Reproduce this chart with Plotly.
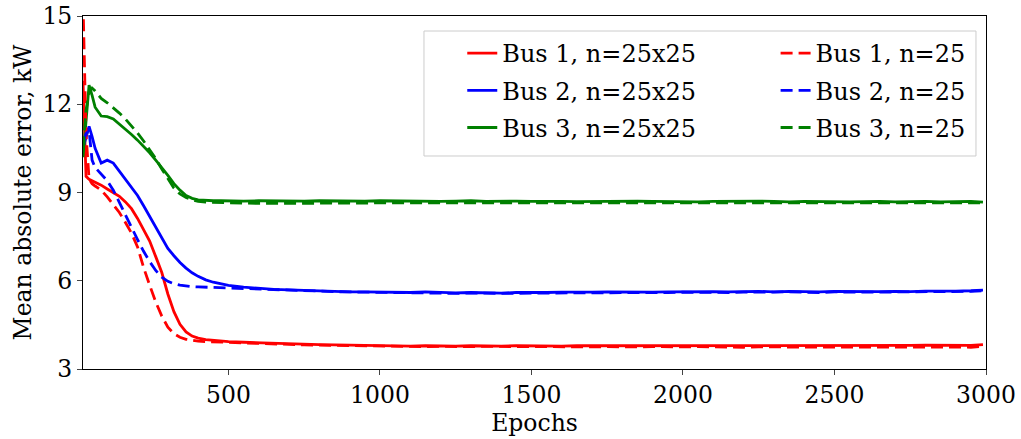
import plotly.graph_objects as go

epochs = [20, 30, 40, 50, 60, 80, 100, 120, 140, 160, 180, 200, 220, 240, 260, 280,
          300, 320, 340, 360, 380, 400, 425, 450, 475,
          500, 550, 600, 650, 700, 750, 800, 850, 900, 950, 1000, 1050, 1100, 1150,
          1200, 1250, 1300, 1350, 1400, 1450, 1500, 1550, 1600, 1650, 1700, 1750,
          1800, 1850, 1900, 1950, 2000, 2050, 2100, 2150, 2200, 2250, 2300, 2350,
          2400, 2450, 2500, 2550, 2600, 2650, 2700, 2750, 2800, 2850, 2900, 2950, 2990]

bus1_25x25 = [12.8, 9.55, 9.45, 9.40, 9.33, 9.25, 9.12, 9.00, 8.87, 8.68, 8.45, 8.12, 7.75, 7.35, 6.82, 6.28,
              5.55, 4.95, 4.52, 4.26, 4.12, 4.05, 4.00, 3.97, 3.95,
              3.93, 3.91, 3.89, 3.87, 3.85, 3.84, 3.83, 3.82, 3.81, 3.80, 3.79, 3.79, 3.78, 3.79,
              3.78, 3.78, 3.79, 3.78, 3.78, 3.79, 3.78, 3.79, 3.78, 3.79, 3.79, 3.78,
              3.79, 3.79, 3.78, 3.79, 3.79, 3.80, 3.79, 3.79, 3.80, 3.79, 3.80, 3.79,
              3.80, 3.80, 3.79, 3.80, 3.80, 3.79, 3.80, 3.80, 3.81, 3.80, 3.81, 3.80, 3.83]

bus1_25 = [15.5, 11.0, 9.45, 9.30, 9.22, 9.08, 8.85, 8.60, 8.32, 7.98, 7.62, 7.15, 6.45, 5.85, 5.28, 4.80,
           4.42, 4.20, 4.08, 4.01, 3.97, 3.95, 3.93, 3.92, 3.91,
           3.90, 3.88, 3.86, 3.85, 3.83, 3.82, 3.81, 3.80, 3.79, 3.78, 3.78, 3.77, 3.77, 3.76,
           3.77, 3.76, 3.76, 3.77, 3.76, 3.75, 3.76, 3.76, 3.75, 3.76, 3.75, 3.76,
           3.75, 3.75, 3.76, 3.75, 3.75, 3.76, 3.75, 3.75, 3.74, 3.75, 3.75, 3.74,
           3.75, 3.75, 3.74, 3.75, 3.74, 3.74, 3.75, 3.74, 3.74, 3.74, 3.75, 3.74, 3.77]

bus2_25x25 = [10.5, 10.9, 11.25, 10.9, 10.5, 10.0, 10.1, 10.0, 9.72, 9.48, 9.20, 8.90, 8.55, 8.18, 7.80, 7.45,
              7.10, 6.85, 6.62, 6.43, 6.27, 6.15, 6.03, 5.95, 5.89,
              5.84, 5.78, 5.74, 5.71, 5.69, 5.67, 5.65, 5.64, 5.62, 5.62, 5.61, 5.60, 5.60, 5.62,
              5.60, 5.59, 5.60, 5.59, 5.58, 5.60, 5.59, 5.60, 5.61, 5.60, 5.61, 5.62,
              5.61, 5.62, 5.61, 5.62, 5.63, 5.62, 5.63, 5.62, 5.63, 5.64, 5.62, 5.64,
              5.63, 5.62, 5.64, 5.63, 5.64, 5.63, 5.64, 5.63, 5.65, 5.64, 5.65, 5.66, 5.68]

bus2_25 = [10.7, 11.0, 11.1, 10.1, 9.85, 9.62, 9.40, 9.08, 8.65, 8.22, 7.82, 7.40, 7.00, 6.65, 6.35, 6.12,
           5.98, 5.90, 5.85, 5.82, 5.80, 5.79, 5.78, 5.77, 5.76,
           5.75, 5.74, 5.72, 5.70, 5.68, 5.66, 5.65, 5.63, 5.62, 5.61, 5.60, 5.59, 5.58, 5.59,
           5.58, 5.57, 5.58, 5.57, 5.58, 5.57, 5.58, 5.58, 5.59, 5.58, 5.59, 5.60,
           5.59, 5.60, 5.59, 5.60, 5.61, 5.60, 5.61, 5.60, 5.61, 5.62, 5.61, 5.62,
           5.61, 5.60, 5.62, 5.61, 5.62, 5.61, 5.62, 5.62, 5.63, 5.62, 5.63, 5.64, 5.66]

bus3_25x25 = [10.2, 11.5, 12.65, 12.3, 11.9, 11.6, 11.58, 11.5, 11.33, 11.15, 10.97, 10.78, 10.57, 10.35, 10.10, 9.85,
              9.58, 9.30, 9.08, 8.90, 8.80, 8.75, 8.73, 8.72, 8.72,
              8.71, 8.71, 8.72, 8.71, 8.72, 8.71, 8.72, 8.71, 8.70, 8.71, 8.72, 8.71, 8.72, 8.71,
              8.70, 8.71, 8.72, 8.70, 8.71, 8.71, 8.70, 8.71, 8.70, 8.69, 8.70, 8.71,
              8.70, 8.71, 8.70, 8.69, 8.70, 8.68, 8.70, 8.71, 8.70, 8.71, 8.70, 8.68,
              8.70, 8.69, 8.70, 8.68, 8.69, 8.70, 8.68, 8.69, 8.70, 8.68, 8.69, 8.70, 8.67]

bus3_25 = [10.5, 11.8, 12.4, 12.55, 12.45, 12.2, 12.05, 11.88, 11.70, 11.50, 11.27, 11.02, 10.75, 10.47, 10.15, 9.80,
           9.45, 9.15, 8.95, 8.83, 8.75, 8.70, 8.67, 8.66, 8.65,
           8.65, 8.64, 8.63, 8.63, 8.62, 8.62, 8.63, 8.63, 8.64, 8.64, 8.65, 8.65, 8.66, 8.66,
           8.67, 8.66, 8.67, 8.67, 8.66, 8.67, 8.66, 8.67, 8.66, 8.66, 8.67, 8.66,
           8.67, 8.66, 8.66, 8.67, 8.66, 8.65, 8.66, 8.66, 8.65, 8.66, 8.66, 8.65,
           8.66, 8.65, 8.66, 8.65, 8.65, 8.66, 8.65, 8.66, 8.65, 8.66, 8.65, 8.66, 8.65]

y_ticks = [3, 6, 9, 12, 15]
x_ticks = [500, 1000, 1500, 2000, 2500, 3000]

series = [
    ("Bus 1, n=25x25", bus1_25x25, "#ff0000", "solid", "legend"),
    ("Bus 2, n=25x25", bus2_25x25, "#0000ff", "solid", "legend"),
    ("Bus 3, n=25x25", bus3_25x25, "#008000", "solid", "legend"),
    ("Bus 1, n=25", bus1_25, "#ff0000", "12px,6px", "legend2"),
    ("Bus 2, n=25", bus2_25, "#0000ff", "12px,6px", "legend2"),
    ("Bus 3, n=25", bus3_25, "#008000", "12px,6px", "legend2"),
]

fig = go.Figure()
for name, vals, color, dash, leg in series:
    fig.add_trace(go.Scatter(x=epochs, y=vals, mode="lines", name=name, legend=leg,
                             legendgroup=name,
                             line=dict(color=color, width=2.8, dash=dash)))

font_family = "DejaVu Serif"
leg_common = dict(orientation="v", yanchor="top", y=0.9575, xanchor="left",
                  bgcolor="rgba(0,0,0,0)", borderwidth=0,
                  font=dict(family=font_family, size=24), tracegroupgap=3)

fig.add_shape(type="rect", xref="paper", yref="paper",
              x0=0.3776, x1=0.9889, y0=0.6034, y1=0.9575,
              line=dict(color="#cccccc", width=1), fillcolor="rgba(255,255,255,0.8)",
              layer="above")

fig.update_layout(
    width=1021, height=439,
    margin=dict(l=83, r=35, t=16, b=70),
    paper_bgcolor="white", plot_bgcolor="white",
    font=dict(family=font_family, size=20, color="black"),
    showlegend=True,
    legend=dict(x=0.420, **leg_common),
    legend2=dict(x=0.767, **leg_common),
    xaxis=dict(
        range=[20, 3000], tickvals=x_ticks, ticks="outside", ticklen=5, tickwidth=1,
        showline=True, linecolor="black", linewidth=1, mirror=True, automargin=False,
        showgrid=False, zeroline=False, tickfont=dict(size=23.5),
        title=dict(text="Epochs", standoff=2, font=dict(size=23.5)),
    ),
    yaxis=dict(
        range=[3, 15], tickvals=y_ticks, ticks="outside", ticklen=5, tickwidth=1,
        showline=True, linecolor="black", linewidth=1, mirror=True, automargin=False,
        showgrid=False, zeroline=False, tickfont=dict(size=23.5),
        title=dict(text="Mean absolute error, kW", standoff=4, font=dict(size=23.5)),
    ),
)

fig.write_html("out.html")
